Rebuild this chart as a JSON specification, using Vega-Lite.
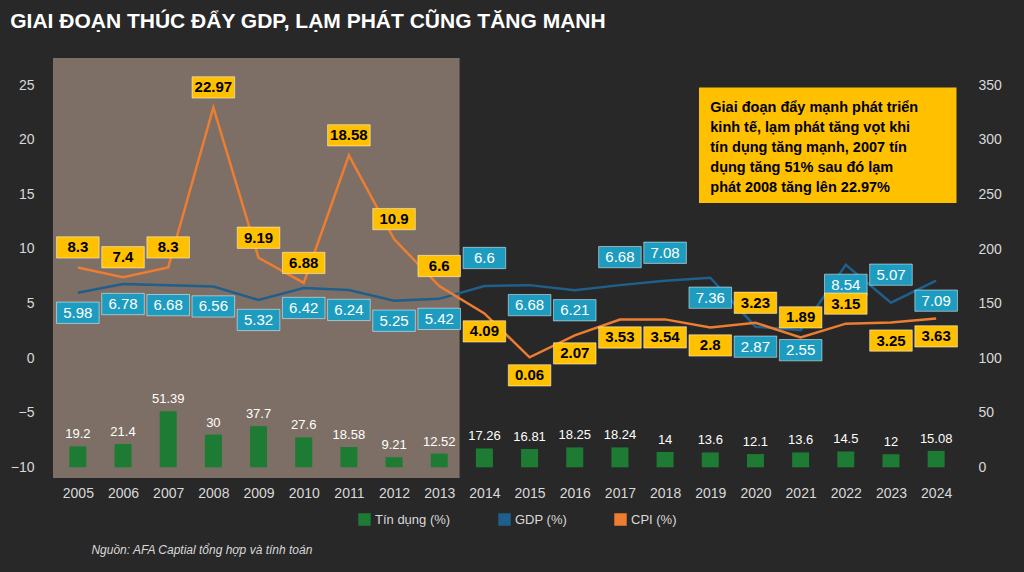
{
"$schema":"https://vega.github.io/schema/vega-lite/v6.json",
"width":918,"height":420,
"autosize":{"type":"none"},
"padding":{"left":48,"right":58,"top":58,"bottom":94},
"background":"#282828",
"title":{"text":"GIAI ĐOẠN THÚC ĐẨY GDP, LẠM PHÁT CŨNG TĂNG MẠNH","anchor":"start","color":"#ffffff","font":"Liberation Sans","fontSize":21,"fontWeight":"bold","offset":26,"dx":0},
"config":{"view":{"stroke":null},"font":"Liberation Sans","axis":{"labelColor":"#d9d9d9","labelFontSize":14,"grid":false,"domain":false,"ticks":false}},
"data":{"values":[
{"year":2005,"gdp":5.98,"cpi":8.3,"credit":19.2},
{"year":2006,"gdp":6.78,"cpi":7.4,"credit":21.4},
{"year":2007,"gdp":6.68,"cpi":8.3,"credit":51.39},
{"year":2008,"gdp":6.56,"cpi":22.97,"credit":30},
{"year":2009,"gdp":5.32,"cpi":9.19,"credit":37.7},
{"year":2010,"gdp":6.42,"cpi":6.88,"credit":27.6},
{"year":2011,"gdp":6.24,"cpi":18.58,"credit":18.58},
{"year":2012,"gdp":5.25,"cpi":10.9,"credit":9.21},
{"year":2013,"gdp":5.42,"cpi":6.6,"credit":12.52},
{"year":2014,"gdp":6.6,"cpi":4.09,"credit":17.26},
{"year":2015,"gdp":6.68,"cpi":0.06,"credit":16.81},
{"year":2016,"gdp":6.21,"cpi":2.07,"credit":18.25},
{"year":2017,"gdp":6.68,"cpi":3.53,"credit":18.24},
{"year":2018,"gdp":7.08,"cpi":3.54,"credit":14},
{"year":2019,"gdp":7.36,"cpi":2.8,"credit":13.6},
{"year":2020,"gdp":2.87,"cpi":3.23,"credit":12.1},
{"year":2021,"gdp":2.55,"cpi":1.89,"credit":13.6},
{"year":2022,"gdp":8.54,"cpi":3.15,"credit":14.5},
{"year":2023,"gdp":5.07,"cpi":3.25,"credit":12},
{"year":2024,"gdp":7.09,"cpi":3.63,"credit":15.08}
]},
"layer":[
{"data":{"values":[{"a":2004.45,"b":2013.45,"lo":-11,"hi":27.5}]},
 "mark":{"type":"rect","color":"#9a877a","opacity":0.75},
 "encoding":{"x":{"field":"a","type":"quantitative","scale":{"domain":[2004.45,2024.55],"nice":false,"zero":false},"axis":{"values":[2005,2006,2007,2008,2009,2010,2011,2012,2013,2014,2015,2016,2017,2018,2019,2020,2021,2022,2023,2024],"format":"d","title":null,"labelPadding":8}},"x2":{"field":"b"},
 "y":{"field":"lo","type":"quantitative","scale":{"domain":[-11,27.5],"nice":false},"axis":{"orient":"left","values":[-10,-5,0,5,10,15,20,25],"title":null,"labelPadding":14}},"y2":{"field":"hi"}}},
{"mark":{"type":"bar","size":17},
 "encoding":{"x":{"field":"year","type":"quantitative"},
 "y":{"field":"credit","type":"quantitative","scale":{"domain":[-9.8,375],"nice":false},"axis":{"orient":"right","values":[0,50,100,150,200,250,300,350],"title":null,"labelPadding":12}},
 "color":{"datum":"Tín dụng (%)","type":"nominal","scale":{"domain":["Tín dụng (%)","GDP (%)","CPI (%)"],"range":["#1e7b34","#1f5f8b","#ed7d31"]},"legend":{"orient":"none","legendX":310,"legendY":455,"title":null,"labelColor":"#d9d9d9","labelFontSize":13,"direction":"horizontal","columnPadding":45,"symbolType":"square","symbolSize":120}}}},
{"mark":{"type":"text","color":"#ffffff","fontSize":13,"dy":-12},
 "encoding":{"x":{"field":"year","type":"quantitative"},"y":{"field":"credit","type":"quantitative","scale":{"domain":[-9.8,375],"nice":false},"axis":null},"text":{"field":"credit"}}},
{"layer":[
 {"mark":{"type":"line","strokeWidth":2.5},"encoding":{"x":{"field":"year","type":"quantitative"},"y":{"field":"gdp","type":"quantitative","scale":{"domain":[-11,27.5],"nice":false},"axis":null},"color":{"datum":"GDP (%)","type":"nominal"}}},
 {"mark":{"type":"line","strokeWidth":2.5},"encoding":{"x":{"field":"year","type":"quantitative"},"y":{"field":"cpi","type":"quantitative","scale":{"domain":[-11,27.5],"nice":false},"axis":null},"color":{"datum":"CPI (%)","type":"nominal"}}},
 {"transform":[{"filter":"indexof([2014,2017,2018,2023], datum.year) < 0"}],"layer":[
  {"mark":{"type":"point","shape":"M-1.1,-0.55H1.1V0.55H-1.1Z","size":1500,"filled":true,"opacity":1,"color":"#1e9cc0","stroke":"#ffffff","strokeWidth":0.5,"yOffset":20}},
  {"mark":{"type":"text","color":"#ffffff","fontSize":15,"yOffset":20},"encoding":{"text":{"field":"gdp"}}}],
  "encoding":{"x":{"field":"year","type":"quantitative"},"y":{"field":"gdp","type":"quantitative","scale":{"domain":[-11,27.5],"nice":false},"axis":null}}},
 {"transform":[{"filter":"indexof([2014,2017,2018,2023], datum.year) >= 0"}],"layer":[
  {"mark":{"type":"point","shape":"M-1.1,-0.55H1.1V0.55H-1.1Z","size":1500,"filled":true,"opacity":1,"color":"#1e9cc0","stroke":"#ffffff","strokeWidth":0.5,"yOffset":-28}},
  {"mark":{"type":"text","color":"#ffffff","fontSize":15,"yOffset":-28},"encoding":{"text":{"field":"gdp"}}}],
  "encoding":{"x":{"field":"year","type":"quantitative"},"y":{"field":"gdp","type":"quantitative","scale":{"domain":[-11,27.5],"nice":false},"axis":null}}},
 {"transform":[{"filter":"indexof([2014,2015,2016,2017,2018,2019,2023,2024], datum.year) < 0"}],"layer":[
  {"mark":{"type":"point","shape":"M-1.1,-0.55H1.1V0.55H-1.1Z","size":1500,"filled":true,"opacity":1,"color":"#ffc000","stroke":"#ffffff","strokeWidth":0.5,"yOffset":-20}},
  {"mark":{"type":"text","color":"#000000","fontSize":15,"fontWeight":"bold","yOffset":-20},"encoding":{"text":{"field":"cpi"}}}],
  "encoding":{"x":{"field":"year","type":"quantitative"},"y":{"field":"cpi","type":"quantitative","scale":{"domain":[-11,27.5],"nice":false},"axis":null}}},
 {"transform":[{"filter":"indexof([2014,2015,2016,2017,2018,2019,2023,2024], datum.year) >= 0"}],"layer":[
  {"mark":{"type":"point","shape":"M-1.1,-0.55H1.1V0.55H-1.1Z","size":1500,"filled":true,"opacity":1,"color":"#ffc000","stroke":"#ffffff","strokeWidth":0.5,"yOffset":18}},
  {"mark":{"type":"text","color":"#000000","fontSize":15,"fontWeight":"bold","yOffset":18},"encoding":{"text":{"field":"cpi"}}}],
  "encoding":{"x":{"field":"year","type":"quantitative"},"y":{"field":"cpi","type":"quantitative","scale":{"domain":[-11,27.5],"nice":false},"axis":null}}},
 {"data":{"values":[{"a":2018.75,"b":2024.45,"lo":14.2,"hi":24.8}]},"mark":{"type":"rect","color":"#ffc000"},"encoding":{"x":{"field":"a","type":"quantitative"},"x2":{"field":"b"},"y":{"field":"lo","type":"quantitative","scale":{"domain":[-11,27.5],"nice":false},"axis":null},"y2":{"field":"hi"}}},
 {"data":{"values":[{"x":2019.0,"y":23.6,"t":["Giai đoạn đẩy mạnh phát triển","kinh tế, lạm phát tăng vọt khi","tín dụng tăng mạnh, 2007 tín","dụng tăng 51% sau đó lạm","phát 2008 tăng lên 22.97%"]}]},"mark":{"type":"text","align":"left","baseline":"top","fontSize":14.5,"fontWeight":"bold","color":"#000000","lineHeight":20},"encoding":{"x":{"field":"x","type":"quantitative"},"y":{"field":"y","type":"quantitative","scale":{"domain":[-11,27.5],"nice":false},"axis":null},"text":{"field":"t"}}},
 {"data":{"values":[{"x":2005.3,"y":-17.6,"t":"Nguồn: AFA Captial tổng hợp và tính toán"}]},"mark":{"type":"text","align":"left","fontSize":12,"fontStyle":"italic","color":"#d9d9d9"},"encoding":{"x":{"field":"x","type":"quantitative"},"y":{"field":"y","type":"quantitative","scale":{"domain":[-11,27.5],"nice":false},"axis":null},"text":{"field":"t"}}}
]}
],
"resolve":{"scale":{"y":"independent"}}
}
